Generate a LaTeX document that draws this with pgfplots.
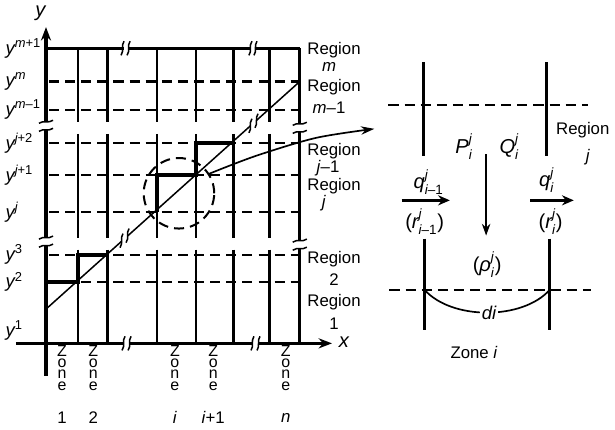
\documentclass[border=0pt]{standalone}
\usepackage{amsmath}
\usepackage{pgfplots}
\pgfplotsset{compat=1.18}
\usepackage{fontspec}
\setmainfont{Liberation Sans}
\usetikzlibrary{arrows.meta}
\newcommand{\I}[1]{\textit{#1}}
\newcommand{\sbrk}[2]{\draw[line width=0.9pt] (axis cs:{#1-1.5},{#2+7}) .. controls (axis cs:{#1+2},{#2+2}) and (axis cs:{#1-2},{#2-2}) .. (axis cs:{#1+1.5},{#2-7});}
\newcommand{\vbrk}[2]{\draw[line width=0.9pt] (axis cs:{#1-7},{#2+1.5}) .. controls (axis cs:{#1-2},{#2-2}) and (axis cs:{#1+2},{#2+2}) .. (axis cs:{#1+7},{#2-1.5});}
\begin{document}
\begin{tikzpicture}[font=\fontsize{10}{12}\selectfont]
\begin{axis}[scale only axis, width=369pt, height=255.6pt,
  xmin=0, xmax=615, ymin=0, ymax=426, y dir=reverse,
  hide axis, clip=false, no markers,
  every axis plot/.append style={black}]
% dashed region boundaries
\pgfplotsinvokeforeach{81,109,142,174,211,253,280}{
  \addplot[line width=1.2pt, dash pattern=on 6pt off 3.6pt] coordinates {(55,#1)(304,#1)};
}
% interior zone boundaries
\pgfplotsinvokeforeach{84,113,162,201,238,274}{
  \addplot[line width=1.4pt] coordinates {(#1,48)(#1,121)};
  \addplot[line width=1.4pt] coordinates {(#1,133)(#1,236)};
  \addplot[line width=1.4pt] coordinates {(#1,248)(#1,341)};
}
% top line
\addplot[line width=1.8pt] coordinates {(52,48)(129,48)};
\addplot[line width=1.8pt] coordinates {(134,48)(255,48)};
\addplot[line width=1.8pt] coordinates {(260,48)(304,48)};
% x axis
\addplot[line width=1.8pt] coordinates {(22,341)(129,341)};
\addplot[line width=1.8pt] coordinates {(135,341)(257,341)};
\addplot[line width=1.6pt, -{Stealth[length=8pt,width=6pt]}] coordinates {(263,341)(336,341)};
% y axis
\addplot[line width=1.8pt, -{Stealth[length=8pt,width=6pt]}] coordinates {(52,121)(52,27)};
\addplot[line width=1.8pt] coordinates {(52,129)(52,236)};
\addplot[line width=1.8pt] coordinates {(52,244)(52,373)};
% right border
\addplot[line width=1.8pt] coordinates {(304,48)(304,123)};
\addplot[line width=1.8pt] coordinates {(304,131)(304,239)};
\addplot[line width=1.8pt] coordinates {(304,247)(304,341)};
% staircases
\addplot[line width=2.4pt] coordinates {(52,280)(84,280)(84,253)(113,253)};
\addplot[line width=2.4pt] coordinates {(162,211)(162,174)(201,174)(201,142)(238,142)};
% diagonal
\addplot[line width=0.9pt] coordinates {(52,307)(127,239.7)};
\addplot[line width=0.9pt] coordinates {(133,234.4)(255,125.0)};
\addplot[line width=0.9pt] coordinates {(261,119.6)(304,81)};
% break marks
\sbrk{128}{48}\sbrk{134}{48}
\sbrk{255}{48}\sbrk{260}{48}
\sbrk{129}{341}\sbrk{135}{341}
\sbrk{257}{341}\sbrk{263}{341}
\sbrk{127}{239}\sbrk{133}{234}
\sbrk{255}{125}\sbrk{261}{120}
\vbrk{52}{121}\vbrk{52}{129}
\vbrk{52}{236}\vbrk{52}{244}
\vbrk{304}{123}\vbrk{304}{131}
\vbrk{304}{239}\vbrk{304}{247}
% dashed circle
\draw[line width=1.2pt, dash pattern=on 6pt off 3.6pt] (axis cs:184,192) circle[radius=21pt];
% long arrow
\addplot[line width=1pt, smooth, -{Stealth[length=8pt,width=5pt]}] coordinates {(213,173)(260,155)(320,137)(378,128)};
% right detail
\addplot[line width=1.2pt, dash pattern=on 6pt off 3.6pt] coordinates {(392,104)(590,104)};
\addplot[line width=1.6pt] coordinates {(427,62)(427,155)};
\addplot[line width=1.6pt] coordinates {(549,62)(549,155)};
\addplot[line width=1.2pt, -{Stealth[length=7pt,width=5pt]}] coordinates {(489,153)(489,234)};
\addplot[line width=1.4pt, -{Stealth[length=7pt,width=6pt]}] coordinates {(405,199)(453,199)};
\addplot[line width=1.4pt, -{Stealth[length=7pt,width=6pt]}] coordinates {(533,199)(576,199)};
\addplot[line width=1.6pt] coordinates {(428,237)(428,328)};
\addplot[line width=1.6pt] coordinates {(552,237)(552,328)};
\addplot[line width=1.2pt, dash pattern=on 6pt off 3.6pt] coordinates {(393,288)(593,288)};
\draw[line width=1pt] (axis cs:428,288) .. controls (axis cs:455,318) and (axis cs:525,318) .. (axis cs:552,288);
\node[fill=white, inner sep=1pt, font=\fontsize{11}{12}\selectfont] at (axis cs:492,311) {\I{di}};
\node at (axis cs:477,350) {Zone \I{i}};
\node at (axis cs:585,129) {Region};
\node at (axis cs:590,156) {\I{j}};
\begin{scope}[font=\fontsize{12}{12}\selectfont]
\node at (axis cs:467,146) {$\I{P}^{\I{j}}_{\I{i}}$};
\node at (axis cs:512,146) {$\I{Q}^{\I{j}}_{\I{i}}$};
\node at (axis cs:432,181) {$\I{q}^{\I{j}}_{\I{i}\text{--1}}$};
\node at (axis cs:549,179) {$\I{q}^{\I{j}}_{\I{i}}$};
\node at (axis cs:428,220) {($\I{r}^{\I{j}}_{\I{i}\text{--1}}$)};
\node at (axis cs:553,220) {($\I{r}^{\I{j}}_{\I{i}}$)};
\node at (axis cs:490,263) {($\I{ρ}^{\I{j}}_{\I{i}}$)};
\end{scope}
% axis labels
\node[font=\fontsize{12}{12}\selectfont] at (axis cs:47,13) {\I{y}};
\node[font=\fontsize{12}{12}\selectfont] at (axis cs:348,340) {\I{x}};
% y labels
\begin{scope}[font=\fontsize{11}{12}\selectfont]
\node[anchor=west] at (axis cs:6,48) {$\I{y}^{\I{m}\text{+1}}$};
\node[anchor=west] at (axis cs:6,81) {$\I{y}^{\I{m}}$};
\node[anchor=west] at (axis cs:6,109) {$\I{y}^{\I{m}\text{--1}}$};
\node[anchor=west] at (axis cs:6,142) {$\I{y}^{\I{j}\text{+2}}$};
\node[anchor=west] at (axis cs:6,174) {$\I{y}^{\I{j}\text{+1}}$};
\node[anchor=west] at (axis cs:6,211) {$\I{y}^{\I{j}}$};
\node[anchor=west] at (axis cs:6,253) {$\I{y}^{\text{3}}$};
\node[anchor=west] at (axis cs:6,280) {$\I{y}^{\text{2}}$};
\node[anchor=west] at (axis cs:6,328) {$\I{y}^{\text{1}}$};
\end{scope}
% region labels
\node at (axis cs:338,50) {Region};
\node at (axis cs:333,67) {\I{m}};
\node at (axis cs:338,87) {Region};
\node at (axis cs:333,107) {\I{m}--1};
\node at (axis cs:338,150) {Region};
\node at (axis cs:332,167) {\I{j}--1};
\node at (axis cs:338,185) {Region};
\node at (axis cs:328,202) {\I{j}};
\node at (axis cs:338,257) {Region};
\node at (axis cs:338,278) {2};
\node at (axis cs:338,300) {Region};
\node at (axis cs:338,322) {1};
% zone labels (stacked letters)
\pgfplotsinvokeforeach{68,99,180,218,290}{
  \node[inner sep=0pt, font=\fontsize{9.5}{10}\selectfont] at (axis cs:#1,349) {Z};
  \node[inner sep=0pt, font=\fontsize{9.5}{10}\selectfont] at (axis cs:#1,361) {o};
  \node[inner sep=0pt, font=\fontsize{9.5}{10}\selectfont] at (axis cs:#1,372) {n};
  \node[inner sep=0pt, font=\fontsize{9.5}{10}\selectfont] at (axis cs:#1,383.5) {e};
}
\node at (axis cs:68,415) {1};
\node at (axis cs:99,415) {2};
\node at (axis cs:180,415) {\I{i}};
\node at (axis cs:218,415) {\I{i}+1};
\node at (axis cs:290,415) {\I{n}};
\end{axis}
\end{tikzpicture}
\end{document}
